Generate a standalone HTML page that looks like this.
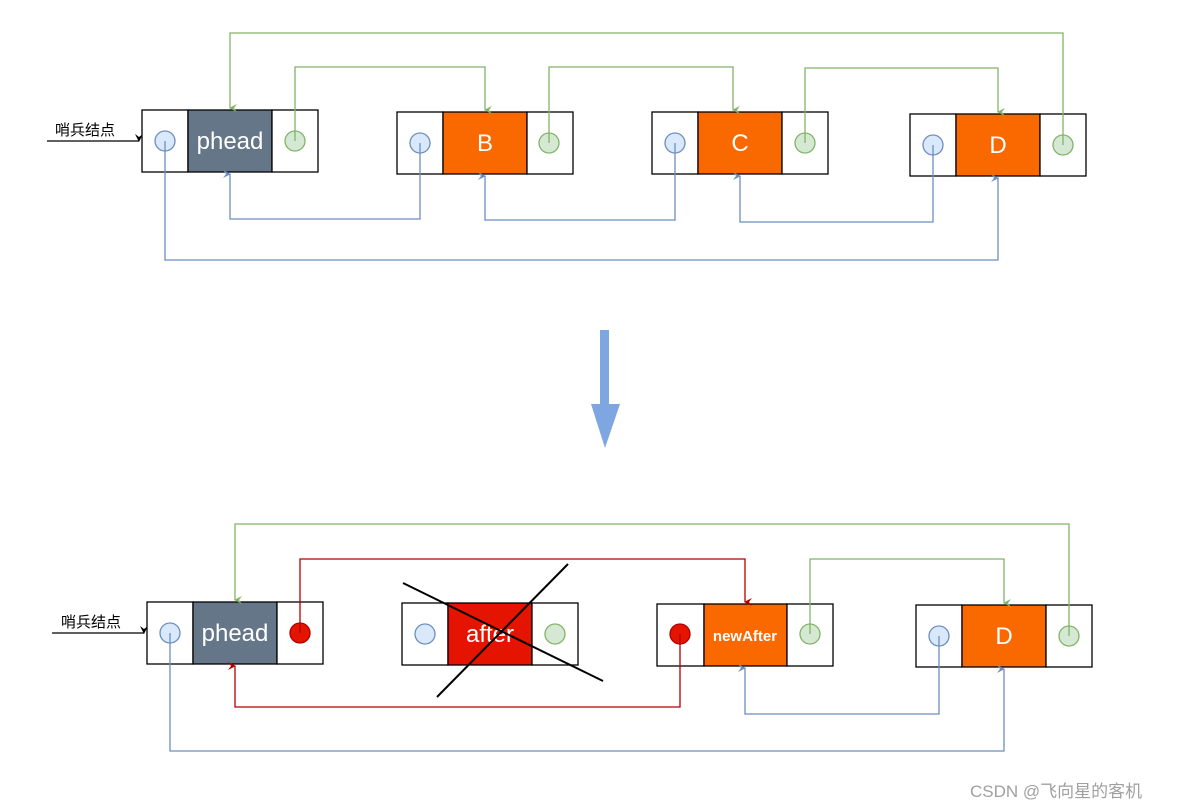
<!DOCTYPE html>
<html><head><meta charset="utf-8"><style>
html,body{margin:0;padding:0;background:#fff;}
svg{display:block;}
text{font-family:"Liberation Sans","Noto Sans CJK SC",sans-serif;}
</style></head><body>
<svg width="1177" height="809" viewBox="0 0 1177 809" xmlns="http://www.w3.org/2000/svg">
<defs>
<marker id="ag" markerWidth="8" markerHeight="8" refX="4" refY="7" orient="auto" markerUnits="userSpaceOnUse" viewBox="0 0 8 8"><path d="M0,0 L4,8 L8,0 L4,3z" fill="#82b366"/></marker>
<marker id="ab" markerWidth="8" markerHeight="8" refX="4" refY="7" orient="auto" markerUnits="userSpaceOnUse" viewBox="0 0 8 8"><path d="M0,0 L4,8 L8,0 L4,3z" fill="#6c8ebf"/></marker>
<marker id="ar" markerWidth="8" markerHeight="8" refX="4" refY="7" orient="auto" markerUnits="userSpaceOnUse" viewBox="0 0 8 8"><path d="M0,0 L4,8 L8,0 L4,3z" fill="#b20000"/></marker>
<marker id="ak" markerWidth="8" markerHeight="8" refX="4" refY="7" orient="auto" markerUnits="userSpaceOnUse" viewBox="0 0 8 8"><path d="M0,0 L4,8 L8,0 L4,3z" fill="#000"/></marker>
</defs>

<!-- TOP -->
<text x="55" y="135" font-size="15">哨兵结点</text>
<line x1="47" y1="141" x2="139" y2="141" stroke="#000" stroke-width="1.3" marker-end="url(#ak)" transform=""/>

<g stroke="#000" stroke-width="1.3">
<rect x="142" y="110" width="46" height="62" fill="#fff"/><rect x="188" y="110" width="84" height="62" fill="#647687"/><rect x="272" y="110" width="46" height="62" fill="#fff"/>
<rect x="397" y="112" width="46" height="62" fill="#fff"/><rect x="443" y="112" width="84" height="62" fill="#fa6800"/><rect x="527" y="112" width="46" height="62" fill="#fff"/>
<rect x="652" y="112" width="46" height="62" fill="#fff"/><rect x="698" y="112" width="84" height="62" fill="#fa6800"/><rect x="782" y="112" width="46" height="62" fill="#fff"/>
<rect x="910" y="114" width="46" height="62" fill="#fff"/><rect x="956" y="114" width="84" height="62" fill="#fa6800"/><rect x="1040" y="114" width="46" height="62" fill="#fff"/>
</g>
<g fill="#fff" font-size="24" text-anchor="middle">
<text x="230" y="149">phead</text><text x="485" y="151">B</text><text x="740" y="151">C</text><text x="998" y="153">D</text>
</g>
<g stroke-width="1.3" fill="none">
<path d="M1063,145 V33 H230 V108" stroke="#82b366" marker-end="url(#ag)"/>
<path d="M295,141 V67 H485 V110" stroke="#82b366" marker-end="url(#ag)"/>
<path d="M549,143 V67 H733 V110" stroke="#82b366" marker-end="url(#ag)"/>
<path d="M805,143 V68 H998 V112" stroke="#82b366" marker-end="url(#ag)"/>
<path d="M420,143 V219 H230 V174" stroke="#6c8ebf" marker-end="url(#ab)"/>
<path d="M675,143 V220 H485 V176" stroke="#6c8ebf" marker-end="url(#ab)"/>
<path d="M933,145 V222 H740 V176" stroke="#6c8ebf" marker-end="url(#ab)"/>
<path d="M165,141 V260 H998 V178" stroke="#6c8ebf" marker-end="url(#ab)"/>
</g>
<g stroke-width="1.3">
<circle cx="165" cy="141" r="10" fill="#dae8fc" stroke="#6c8ebf"/><circle cx="295" cy="141" r="10" fill="#d5e8d4" stroke="#82b366"/>
<circle cx="420" cy="143" r="10" fill="#dae8fc" stroke="#6c8ebf"/><circle cx="549" cy="143" r="10" fill="#d5e8d4" stroke="#82b366"/>
<circle cx="675" cy="143" r="10" fill="#dae8fc" stroke="#6c8ebf"/><circle cx="805" cy="143" r="10" fill="#d5e8d4" stroke="#82b366"/>
<circle cx="933" cy="145" r="10" fill="#dae8fc" stroke="#6c8ebf"/><circle cx="1063" cy="145" r="10" fill="#d5e8d4" stroke="#82b366"/>
</g>
<g stroke-width="1.3" fill="none">
<path d="M295,141 V131" stroke="#82b366"/><path d="M549,143 V133" stroke="#82b366"/><path d="M805,143 V133" stroke="#82b366"/><path d="M1063,145 V135" stroke="#82b366"/>
<path d="M165,141 V151" stroke="#6c8ebf"/><path d="M420,143 V153" stroke="#6c8ebf"/><path d="M675,143 V153" stroke="#6c8ebf"/><path d="M933,145 V155" stroke="#6c8ebf"/>
</g>

<!-- BIG ARROW -->
<rect x="600" y="330" width="9" height="76" fill="#7ea6e0"/>
<path d="M591,404 L620,404 L605,448z" fill="#7ea6e0"/>

<!-- BOTTOM -->
<text x="61" y="627" font-size="15">哨兵结点</text>
<line x1="52" y1="633" x2="144" y2="633" stroke="#000" stroke-width="1.3" marker-end="url(#ak)"/>
<g stroke="#000" stroke-width="1.3">
<rect x="147" y="602" width="46" height="62" fill="#fff"/><rect x="193" y="602" width="84" height="62" fill="#647687"/><rect x="277" y="602" width="46" height="62" fill="#fff"/>
<rect x="402" y="603" width="46" height="62" fill="#fff"/><rect x="448" y="603" width="84" height="62" fill="#e51400"/><rect x="532" y="603" width="46" height="62" fill="#fff"/>
<rect x="657" y="604" width="47" height="62" fill="#fff"/><rect x="704" y="604" width="83" height="62" fill="#fa6800"/><rect x="787" y="604" width="46" height="62" fill="#fff"/>
<rect x="916" y="605" width="46" height="62" fill="#fff"/><rect x="962" y="605" width="84" height="62" fill="#fa6800"/><rect x="1046" y="605" width="46" height="62" fill="#fff"/>
</g>
<g fill="#fff" text-anchor="middle">
<text x="235" y="641" font-size="24">phead</text><text x="490" y="642" font-size="24">after</text>
<text x="745" y="641" font-size="15" font-weight="bold">newAfter</text><text x="1004" y="644" font-size="24">D</text>
</g>
<g stroke-width="1.3" fill="none">
<path d="M1069,636 V524 H235 V600" stroke="#82b366" marker-end="url(#ag)"/>
<path d="M300,633 V559 H745 V602" stroke="#b20000" marker-end="url(#ar)"/>
<path d="M810,635 V559 H1004 V603" stroke="#82b366" marker-end="url(#ag)"/>
<path d="M680,633 V707 H235 V666" stroke="#b20000" marker-end="url(#ar)"/>
<path d="M939,636 V714 H745 V668" stroke="#6c8ebf" marker-end="url(#ab)"/>
<path d="M170,633 V751 H1004 V669" stroke="#6c8ebf" marker-end="url(#ab)"/>
</g>
<g stroke-width="1.3">
<circle cx="170" cy="633" r="10" fill="#dae8fc" stroke="#6c8ebf"/><circle cx="300" cy="633" r="10" fill="#e51400" stroke="#b20000"/>
<circle cx="425" cy="634" r="10" fill="#dae8fc" stroke="#6c8ebf"/><circle cx="555" cy="634" r="10" fill="#d5e8d4" stroke="#82b366"/>
<circle cx="680" cy="634" r="10" fill="#e51400" stroke="#b20000"/><circle cx="810" cy="634" r="10" fill="#d5e8d4" stroke="#82b366"/>
<circle cx="939" cy="636" r="10" fill="#dae8fc" stroke="#6c8ebf"/><circle cx="1069" cy="636" r="10" fill="#d5e8d4" stroke="#82b366"/>
</g>
<g stroke-width="1.3" fill="none">
<path d="M170,633 V643" stroke="#6c8ebf"/><path d="M680,634 V644" stroke="#b20000"/><path d="M810,634 V624" stroke="#82b366"/>
<path d="M939,636 V646" stroke="#6c8ebf"/><path d="M1069,636 V626" stroke="#82b366"/><path d="M300,633 V623" stroke="#b20000"/>
</g>
<line x1="403" y1="583" x2="603" y2="681" stroke="#000" stroke-width="2"/>
<line x1="437" y1="697" x2="568" y2="564" stroke="#000" stroke-width="2"/>

<text x="970" y="797" font-size="17" fill="#a0a0a0">CSDN @飞向星的客机</text>
</svg>
</body></html>
